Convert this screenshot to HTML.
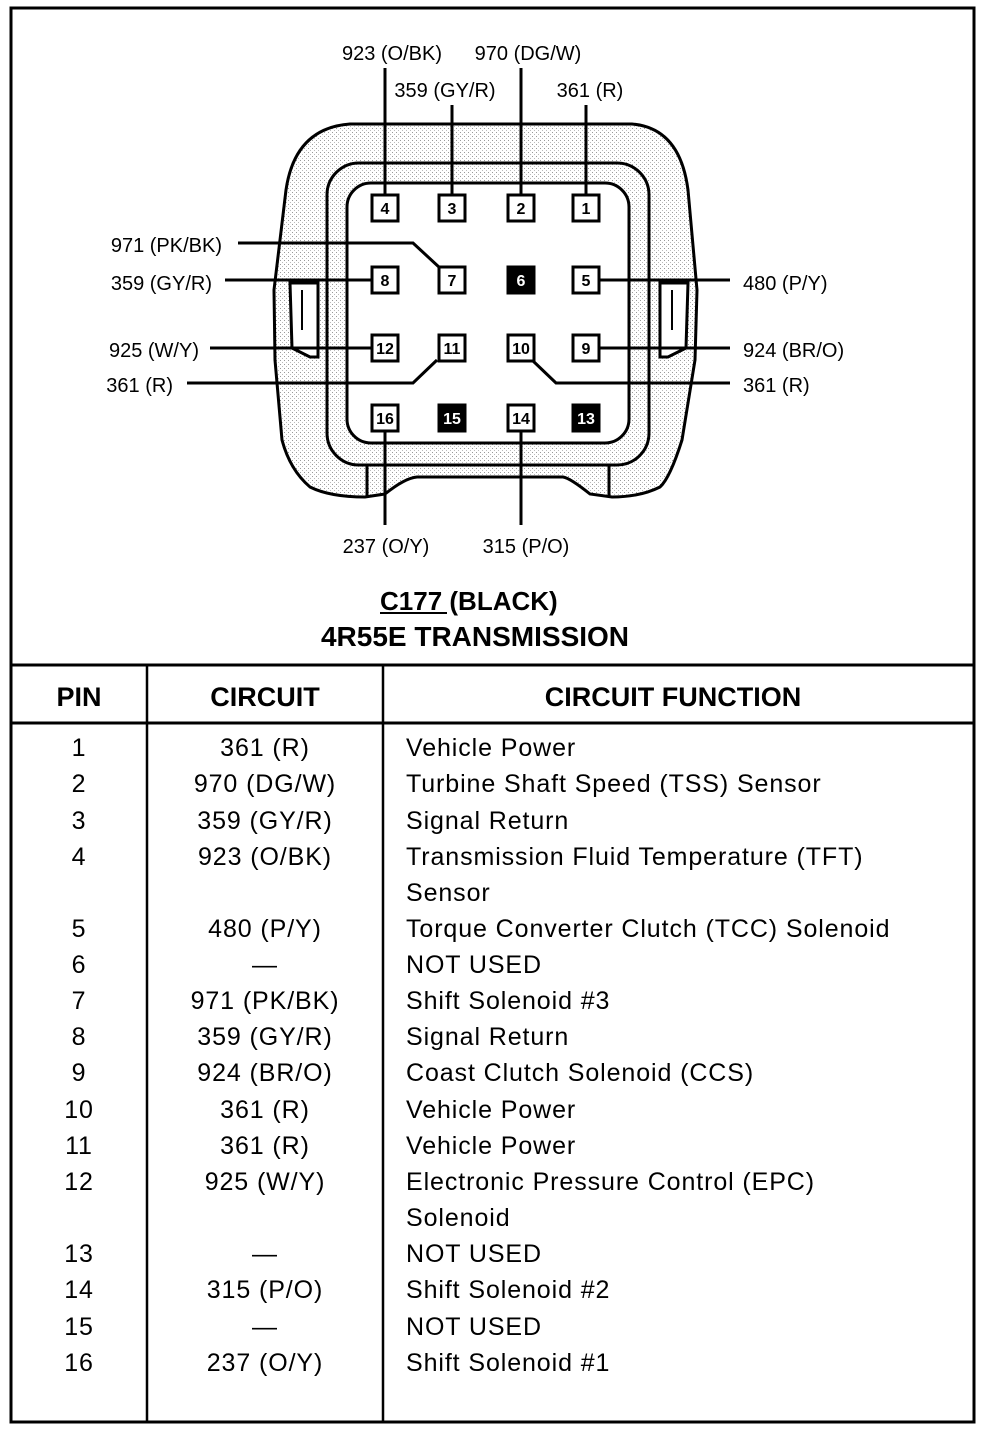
<!DOCTYPE html>
<html><head><meta charset="utf-8"><style>
html,body{margin:0;padding:0;background:#fff;}
svg{display:block;}
text{font-family:"Liberation Sans",Arial,sans-serif;fill:#000;}
</style></head><body>
<svg width="992" height="1432" viewBox="0 0 992 1432" xmlns="http://www.w3.org/2000/svg">
<defs>
<pattern id="dots" width="4" height="4" patternUnits="userSpaceOnUse">
<rect width="4" height="4" fill="#fff"/>
<rect x="0" y="0" width="1" height="1" fill="#999"/>
<rect x="2" y="2" width="1" height="1" fill="#bbb"/>
</pattern>
</defs>
<rect x="11" y="8" width="963" height="1414" fill="none" stroke="#000" stroke-width="3"/>
<line x1="11" y1="665" x2="974" y2="665" stroke="#000" stroke-width="3"/>
<line x1="11" y1="723" x2="974" y2="723" stroke="#000" stroke-width="3"/>
<line x1="147" y1="665" x2="147" y2="1422" stroke="#000" stroke-width="2.5"/>
<line x1="383" y1="665" x2="383" y2="1422" stroke="#000" stroke-width="2.5"/>

<g fill="none" stroke="#000" stroke-width="3">
<path d="M350 124 L632 124 Q680 128 688 190 L697 290 L695 360 L682 440 Q670 478 660 487 Q640 497 612 497 L590 494 Q570 478 563 477 L417 477 Q405 478 385 494 L365 497 Q330 497 310 487 Q290 470 282 440 L275 360 L274 290 L286 190 Q295 128 350 124 Z" fill="url(#dots)"/>
<rect x="327" y="163" width="322" height="302" rx="32" fill="url(#dots)"/>
<rect x="347" y="183" width="282" height="260" rx="24" fill="#fff"/>
<line x1="367" y1="465" x2="367" y2="497"/>
<line x1="609" y1="465" x2="609" y2="497"/>
<path d="M290 283 L318 283 L318 357 L310 357 L292 348 Z" fill="#fff"/>
<line x1="302" y1="290" x2="302" y2="330" stroke-width="2"/>
<path d="M660 283 L688 283 L686 348 L668 357 L660 357 Z" fill="#fff"/>
<line x1="672" y1="290" x2="672" y2="330" stroke-width="2"/>
</g>

<g fill="none" stroke="#000" stroke-width="3">
<line x1="385" y1="68" x2="385" y2="196"/>
<line x1="452" y1="105" x2="452" y2="196"/>
<line x1="521" y1="68" x2="521" y2="196"/>
<line x1="586" y1="105" x2="586" y2="196"/>
<polyline points="238,243 413,243 440,268"/>
<line x1="225" y1="280" x2="372" y2="280"/>
<line x1="600" y1="280" x2="730" y2="280"/>
<line x1="210" y1="348" x2="372" y2="348"/>
<line x1="600" y1="348" x2="730" y2="348"/>
<polyline points="187,383 413,383 437,360"/>
<polyline points="532,360 556,383 730,383"/>
<line x1="385" y1="430" x2="385" y2="525"/>
<line x1="521" y1="430" x2="521" y2="525"/>
</g>

<g stroke="#000" stroke-width="3" font-size="16" font-weight="bold" text-anchor="middle">
<rect x="372" y="195" width="26" height="26" fill="#fff"/><text x="385" y="214" stroke="none">4</text>
<rect x="439" y="195" width="26" height="26" fill="#fff"/><text x="452" y="214" stroke="none">3</text>
<rect x="508" y="195" width="26" height="26" fill="#fff"/><text x="521" y="214" stroke="none">2</text>
<rect x="573" y="195" width="26" height="26" fill="#fff"/><text x="586" y="214" stroke="none">1</text>
<rect x="372" y="267" width="26" height="26" fill="#fff"/><text x="385" y="286" stroke="none">8</text>
<rect x="439" y="267" width="26" height="26" fill="#fff"/><text x="452" y="286" stroke="none">7</text>
<rect x="508" y="267" width="26" height="26" fill="#000"/><text x="521" y="286" stroke="none" style="fill:#fff">6</text>
<rect x="573" y="267" width="26" height="26" fill="#fff"/><text x="586" y="286" stroke="none">5</text>
<rect x="372" y="335" width="26" height="26" fill="#fff"/><text x="385" y="354" stroke="none">12</text>
<rect x="439" y="335" width="26" height="26" fill="#fff"/><text x="452" y="354" stroke="none">11</text>
<rect x="508" y="335" width="26" height="26" fill="#fff"/><text x="521" y="354" stroke="none">10</text>
<rect x="573" y="335" width="26" height="26" fill="#fff"/><text x="586" y="354" stroke="none">9</text>
<rect x="372" y="405" width="26" height="26" fill="#fff"/><text x="385" y="424" stroke="none">16</text>
<rect x="439" y="405" width="26" height="26" fill="#000"/><text x="452" y="424" stroke="none" style="fill:#fff">15</text>
<rect x="508" y="405" width="26" height="26" fill="#fff"/><text x="521" y="424" stroke="none">14</text>
<rect x="573" y="405" width="26" height="26" fill="#000"/><text x="586" y="424" stroke="none" style="fill:#fff">13</text>
</g>

<g font-size="20">
<text x="392" y="60" text-anchor="middle">923 (O/BK)</text>
<text x="528" y="60" text-anchor="middle">970 (DG/W)</text>
<text x="445" y="97" text-anchor="middle">359 (GY/R)</text>
<text x="590" y="97" text-anchor="middle">361 (R)</text>
<text x="222" y="252" text-anchor="end">971 (PK/BK)</text>
<text x="212" y="290" text-anchor="end">359 (GY/R)</text>
<text x="199" y="357" text-anchor="end">925 (W/Y)</text>
<text x="173" y="392" text-anchor="end">361 (R)</text>
<text x="743" y="290">480 (P/Y)</text>
<text x="743" y="357">924 (BR/O)</text>
<text x="743" y="392">361 (R)</text>
<text x="386" y="553" text-anchor="middle">237 (O/Y)</text>
<text x="526" y="553" text-anchor="middle">315 (P/O)</text>
</g>
<g font-size="26" font-weight="bold">
<text x="380" y="610">C177 (BLACK)</text>
<text x="475" y="646" font-size="28" text-anchor="middle">4R55E TRANSMISSION</text>
</g>
<line x1="380" y1="613" x2="447" y2="613" stroke="#000" stroke-width="2"/>

<g font-size="27" font-weight="bold" text-anchor="middle">
<text x="79" y="706">PIN</text>
<text x="265" y="706">CIRCUIT</text>
<text x="673" y="706">CIRCUIT FUNCTION</text>
</g>
<g font-size="25" letter-spacing="0.9">
<g text-anchor="middle">
<text x="79" y="756">1</text><text x="265" y="756">361 (R)</text>
<text x="79" y="792">2</text><text x="265" y="792">970 (DG/W)</text>
<text x="79" y="829">3</text><text x="265" y="829">359 (GY/R)</text>
<text x="79" y="865">4</text><text x="265" y="865">923 (O/BK)</text>
<text x="79" y="937">5</text><text x="265" y="937">480 (P/Y)</text>
<text x="79" y="973">6</text><text x="265" y="973">—</text>
<text x="79" y="1009">7</text><text x="265" y="1009">971 (PK/BK)</text>
<text x="79" y="1045">8</text><text x="265" y="1045">359 (GY/R)</text>
<text x="79" y="1081">9</text><text x="265" y="1081">924 (BR/O)</text>
<text x="79" y="1118">10</text><text x="265" y="1118">361 (R)</text>
<text x="79" y="1154">11</text><text x="265" y="1154">361 (R)</text>
<text x="79" y="1190">12</text><text x="265" y="1190">925 (W/Y)</text>
<text x="79" y="1262">13</text><text x="265" y="1262">—</text>
<text x="79" y="1298">14</text><text x="265" y="1298">315 (P/O)</text>
<text x="79" y="1335">15</text><text x="265" y="1335">—</text>
<text x="79" y="1371">16</text><text x="265" y="1371">237 (O/Y)</text>
</g>
<text x="406" y="756">Vehicle Power</text>
<text x="406" y="792">Turbine Shaft Speed (TSS) Sensor</text>
<text x="406" y="829">Signal Return</text>
<text x="406" y="865">Transmission Fluid Temperature (TFT)</text>
<text x="406" y="901">Sensor</text>
<text x="406" y="937">Torque Converter Clutch (TCC) Solenoid</text>
<text x="406" y="973">NOT USED</text>
<text x="406" y="1009">Shift Solenoid #3</text>
<text x="406" y="1045">Signal Return</text>
<text x="406" y="1081">Coast Clutch Solenoid (CCS)</text>
<text x="406" y="1118">Vehicle Power</text>
<text x="406" y="1154">Vehicle Power</text>
<text x="406" y="1190">Electronic Pressure Control (EPC)</text>
<text x="406" y="1226">Solenoid</text>
<text x="406" y="1262">NOT USED</text>
<text x="406" y="1298">Shift Solenoid #2</text>
<text x="406" y="1335">NOT USED</text>
<text x="406" y="1371">Shift Solenoid #1</text>
</g>
</svg>
</body></html>
